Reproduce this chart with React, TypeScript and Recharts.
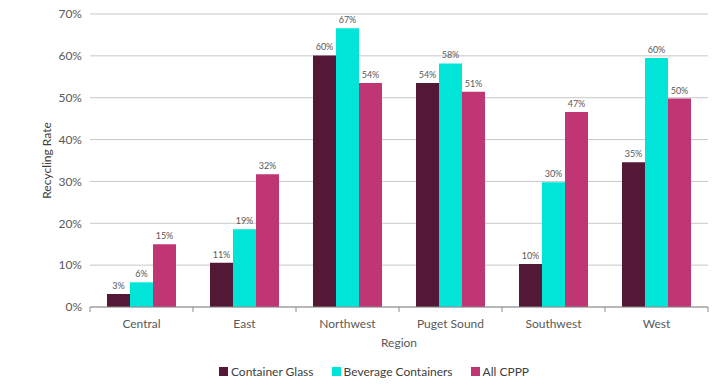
import React from "react"
import {
    BarChart,
    Bar,
    XAxis,
    YAxis,
    CartesianGrid,
    Legend,
    LabelList,
} from "recharts"

const regions = ["Central", "East", "Northwest", "Puget Sound", "Southwest", "West"]
const containerGlass = [3.1, 10.6, 60.1, 53.5, 10.3, 34.6]
const beverageContainers = [5.9, 18.6, 66.6, 58.2, 29.8, 59.5]
const allCppp = [15.0, 31.7, 53.5, 51.4, 46.6, 49.8]
const yTicks = [0, 10, 20, 30, 40, 50, 60, 70]

const series = [
    { key: "glass", name: "Container Glass", color: "#541837" },
    { key: "beverage", name: "Beverage Containers", color: "#00E5D8" },
    { key: "cppp", name: "All CPPP", color: "#C03574" },
]

const data = regions.map((region, i) => ({
    region,
    glass: containerGlass[i],
    beverage: beverageContainers[i],
    cppp: allCppp[i],
}))

const FONT = "Lato, 'Open Sans', sans-serif"
const PLOT_LEFT = 90
const PLOT_RIGHT = 708
const BAND = (PLOT_RIGHT - PLOT_LEFT) / regions.length

function RegionTick(props: any) {
    const { x, y, payload, index } = props
    const left = x - BAND / 2
    const right = x + BAND / 2
    return (
        <g>
            <line x1={left} y1={y - 8} x2={left} y2={y - 3} stroke="#8c8c8c" />
            {index === regions.length - 1 && (
                <line x1={right} y1={y - 8} x2={right} y2={y - 3} stroke="#8c8c8c" />
            )}
            <text
                x={x}
                y={y + 13}
                textAnchor="middle"
                fill="#595959"
                fontSize={12}
                fontFamily={FONT}
            >
                {payload.value}
            </text>
        </g>
    )
}

function LegendContent() {
    return (
        <div style={{ display: "flex", justifyContent: "center", gap: 18, fontSize: 12, fontFamily: FONT, color: "#404040" }}>
            {series.map((s) => (
                <span key={s.key} style={{ display: "inline-flex", alignItems: "center" }}>
                    <span style={{ width: 9, height: 9, background: s.color, marginRight: 3, display: "inline-block" }} />
                    {s.name}
                </span>
            ))}
        </div>
    )
}

const fmt = (v: any) => `${Math.round(Number(v))}%`

export default function App() {
    return (
        <div style={{ position: "absolute", left: 0, top: 0, background: "#fff" }}>
            <BarChart
                width={718}
                height={389}
                data={data}
                margin={{ top: 14, right: 10, bottom: 10, left: 40 }}
                barCategoryGap="16.5%"
                barGap={0}
            >
                <CartesianGrid vertical={false} stroke="#c8c8c8" />
                <XAxis
                    dataKey="region"
                    height={51}
                    tickLine={false}
                    axisLine={{ stroke: "#8c8c8c" }}
                    tick={<RegionTick />}
                    interval={0}
                    label={{
                        value: "Region",
                        position: "insideBottom",
                        offset: 11,
                        fill: "#595959",
                        fontSize: 12,
                        fontFamily: FONT,
                    }}
                />
                <YAxis
                    width={50}
                    domain={[0, 70]}
                    ticks={yTicks}
                    tickFormatter={(v) => `${v}%`}
                    axisLine={false}
                    tickLine={false}
                    tick={{ fill: "#595959", fontSize: 12, fontFamily: FONT }}
                    label={{
                        value: "Recycling Rate",
                        angle: -90,
                        position: "insideLeft",
                        offset: 7,
                        style: { textAnchor: "middle" },
                        fill: "#404040",
                        fontSize: 12,
                        fontFamily: FONT,
                    }}
                />
                <Legend content={<LegendContent />} wrapperStyle={{ paddingTop: 6 }} />
                {series.map((s) => (
                    <Bar key={s.key} dataKey={s.key} name={s.name} fill={s.color} isAnimationActive={false}>
                        <LabelList dataKey={s.key} position="top" formatter={fmt} fill="#595959" fontSize={9} fontFamily={FONT} />
                    </Bar>
                ))}
            </BarChart>
        </div>
    )
}
